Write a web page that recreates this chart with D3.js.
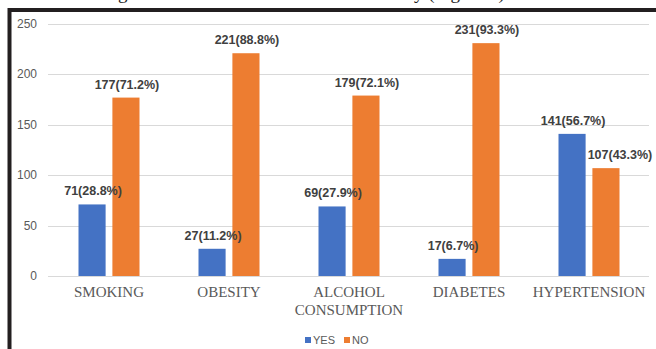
<!DOCTYPE html>
<html>
<head>
<meta charset="utf-8">
<script src="https://cdn.jsdelivr.net/npm/d3@7"></script>
<style>
  body { margin: 0; background: #fff; }
</style>
</head>
<body>
<script>
var categories = ['SMOKING', 'OBESITY', 'ALCOHOL CONSUMPTION', 'DIABETES', 'HYPERTENSION'];
var series = ['YES', 'NO'];
var yesValues = [71, 27, 69, 17, 141];
var noValues = [177, 221, 179, 231, 107];
var yesPct = ['28.8%', '11.2%', '27.9%', '6.7%', '56.7%'];
var noPct = ['71.2%', '88.8%', '72.1%', '93.3%', '43.3%'];
var yTicks = [0, 50, 100, 150, 200, 250];

var width = 656;
var height = 349;
var colors = { YES: '#4472C4', NO: '#ED7D31' };

var svg = d3.select('body')
    .append('svg')
    .attr('width', width)
    .attr('height', height);

// caption from the page above, mostly cut off
svg.append('text')
    .attr('x', 60)
    .attr('y', -1)
    .attr('font-family', 'Liberation Serif')
    .attr('font-size', 19)
    .attr('fill', '#222')
    .text('Showing distribution of risk factors in the study (Figure 2)');

// frame
svg.append('line')
    .attr('x1', 9).attr('y1', 10).attr('x2', width).attr('y2', 10)
    .attr('stroke', '#231f20').attr('stroke-width', 4);
svg.append('line')
    .attr('x1', 9.5).attr('y1', 8).attr('x2', 9.5).attr('y2', height)
    .attr('stroke', '#231f20').attr('stroke-width', 4);

var y = d3.scaleLinear().domain([0, 250]).range([276, 24]);
var x0 = d3.scaleBand().domain(categories).range([49, 649]);
var x1 = d3.scaleBand().domain(series).range([0, 61]).paddingInner(0.2);
var groupOff = (x0.bandwidth() - 61) / 2;

// gridlines
svg.append('g').selectAll('line')
    .data(yTicks)
    .enter().append('line')
    .attr('x1', 48).attr('x2', 649)
    .attr('y1', function(d) { return Math.round(y(d)) + 0.5; })
    .attr('y2', function(d) { return Math.round(y(d)) + 0.5; })
    .attr('stroke', '#d9d9d9')
    .attr('stroke-width', 1.2);

// y tick labels
svg.append('g').selectAll('text')
    .data(yTicks)
    .enter().append('text')
    .attr('x', 37)
    .attr('y', function(d) { return y(d) + 4; })
    .attr('text-anchor', 'end')
    .attr('font-family', 'Liberation Sans')
    .attr('font-size', 12)
    .attr('fill', '#595959')
    .text(function(d) { return d; });

var rows = categories.map(function(c, i) {
    return [
        { cat: c, s: 'YES', v: yesValues[i], label: yesValues[i] + '(' + yesPct[i] + ')' },
        { cat: c, s: 'NO', v: noValues[i], label: noValues[i] + '(' + noPct[i] + ')' }
    ];
});
var flat = d3.merge(rows);

svg.append('g').selectAll('rect')
    .data(flat)
    .enter().append('rect')
    .attr('x', function(d) { return x0(d.cat) + groupOff + x1(d.s); })
    .attr('y', function(d) { return y(d.v); })
    .attr('width', x1.bandwidth())
    .attr('height', function(d) { return y(0) - y(d.v); })
    .attr('fill', function(d) { return colors[d.s]; });

// data labels (the last NO label was pushed right in the original)
svg.append('g').selectAll('text')
    .data(flat)
    .enter().append('text')
    .attr('x', function(d) {
        var nudge = (d.cat === 'HYPERTENSION' && d.s === 'NO') ? 14 : 1;
        return x0(d.cat) + groupOff + x1(d.s) + x1.bandwidth() / 2 + nudge;
    })
    .attr('y', function(d) { return y(d.v) - 9; })
    .attr('text-anchor', 'middle')
    .attr('font-family', 'Liberation Sans')
    .attr('font-weight', 'bold')
    .attr('font-size', 12.5)
    .attr('fill', '#404040')
    .text(function(d) { return d.label; });

// category labels
var catLabels = svg.append('g').selectAll('text')
    .data(categories)
    .enter().append('text')
    .attr('x', function(d) { return x0(d) + x0.bandwidth() / 2; })
    .attr('y', 297)
    .attr('text-anchor', 'middle')
    .attr('font-family', 'Liberation Serif')
    .attr('font-size', 15)
    .attr('fill', '#595959');

catLabels.each(function(d) {
    var words = d.split(' ');
    var t = d3.select(this);
    words.forEach(function(w, i) {
        t.append('tspan')
            .attr('x', x0(d) + x0.bandwidth() / 2)
            .attr('dy', i === 0 ? 0 : 18)
            .text(w);
    });
});

// legend
var legend = svg.append('g').selectAll('g')
    .data(series)
    .enter().append('g')
    .attr('transform', function(d, i) { return 'translate(' + (305 + i * 39) + ',337)'; });

legend.append('rect')
    .attr('width', 6).attr('height', 6)
    .attr('fill', function(d) { return colors[d]; });

legend.append('text')
    .attr('x', 8)
    .attr('y', 6.5)
    .attr('font-family', 'Liberation Sans')
    .attr('font-size', 11)
    .attr('fill', '#595959')
    .text(function(d) { return d; });
</script>
</body>
</html>
